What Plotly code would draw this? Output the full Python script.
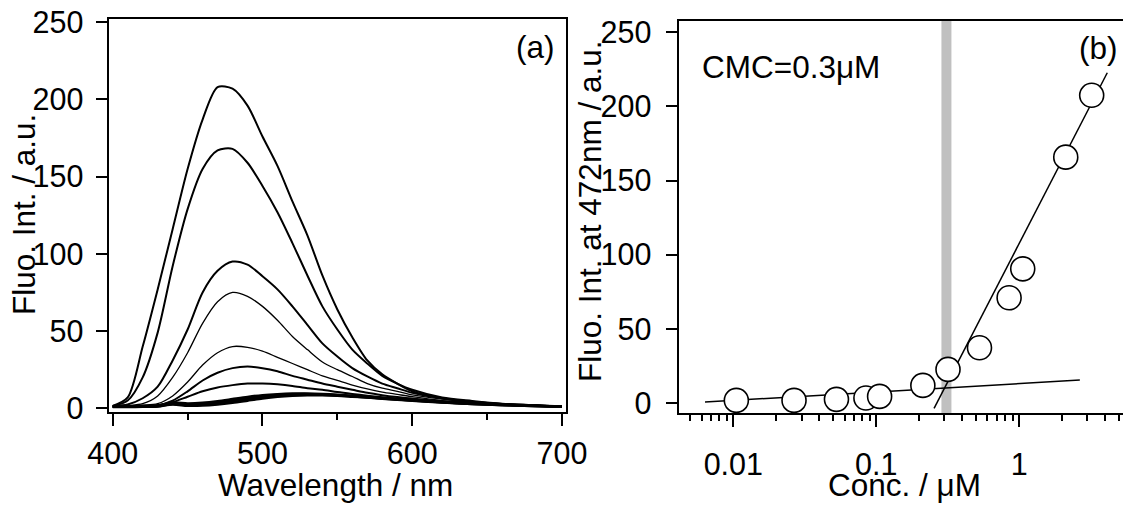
import plotly.graph_objects as go

# ---------------- data: panel (a) spectra ----------------
wavelength = [400, 410, 420, 430, 440, 450, 460, 470, 480, 490, 500, 510, 520, 530,
              540, 550, 560, 570, 580, 590, 600, 620, 640, 660, 680, 700]

spec1 = [1.5, 7, 40, 77, 116, 155, 187, 208, 207, 196, 176, 157, 134, 112, 86, 64, 46, 31, 22, 16, 11, 6.5, 4.3, 2.8, 2, 1.3]
spec2 = [1.5, 5, 20, 49, 92, 129, 155, 167, 168, 159, 144, 127, 107, 86, 66, 51, 38, 29, 21, 16, 12, 7, 4.8, 3, 2, 1.2]
spec3 = [1.5, 2.5, 6.5, 14, 31, 51, 75, 89, 95, 93, 85.5, 77, 66, 54, 42, 33.5, 26, 20.6, 16, 13, 10, 6.5, 4.3, 2.8, 2, 1.2]
spec4 = [1.2, 1.8, 3, 8, 20, 36, 55, 69, 75, 72.5, 66, 57, 46.5, 38, 30, 25, 20.6, 16, 13, 11, 8.7, 6, 4, 2.8, 2, 1.2]
spec5 = [1, 1.5, 2, 3, 8, 17, 28, 36, 40, 39.5, 37, 33, 29, 25, 21, 18, 15, 12.5, 10.5, 9, 7.5, 5, 3.5, 2.5, 1.8, 1.2]
spec6 = [1, 1.3, 1.6, 2, 5, 11, 18, 23, 26, 27, 26, 24, 21, 18.5, 16, 14, 12, 10, 8.5, 7.3, 6.3, 4.5, 3.2, 2.3, 1.7, 1.2]
spec7 = [1, 1.2, 1.4, 1.8, 4, 7.5, 11, 13.5, 15, 16, 16, 15.5, 14.5, 13, 12, 10.5, 9.3, 8.2, 7.2, 6.3, 5.5, 4, 3, 2.2, 1.6, 1.1]
spec8 = [1, 1, 1.2, 1.8, 3.8, 3.2, 3.6, 4.6, 6, 7.4, 8.5, 9.2, 9.6, 9.6, 9.3, 8.8, 8.1, 7.4, 6.7, 6, 5.3, 4.1, 3.1, 2.3, 1.7, 1.1]
spec9 = [1, 1, 1.1, 1.5, 3.2, 2.5, 2.8, 3.7, 5, 6.5, 7.7, 8.6, 9.1, 9.2, 9, 8.5, 7.9, 7.2, 6.5, 5.8, 5.1, 3.9, 2.9, 2.2, 1.6, 1.1]
spec10 = [0.9, 0.9, 1, 1.3, 2.8, 2, 2.2, 3, 4.2, 5.6, 7, 8, 8.6, 8.8, 8.7, 8.3, 7.7, 7, 6.3, 5.6, 5, 3.8, 2.8, 2.1, 1.5, 1]
spec11 = [0.8, 0.8, 0.9, 1.1, 2.4, 1.6, 1.7, 2.4, 3.5, 4.9, 6.3, 7.4, 8.1, 8.4, 8.4, 8.1, 7.5, 6.9, 6.2, 5.5, 4.9, 3.7, 2.8, 2, 1.5, 1]

spectra = [spec1, spec2, spec3, spec4, spec5, spec6, spec7, spec8, spec9, spec10, spec11]
spectra_widths = [2, 2, 2, 1.3, 1.3, 2, 2, 2.4, 2.4, 2.4, 2.4]

# ---------------- data: panel (b) ----------------
conc = [0.0105, 0.0266, 0.0527, 0.0847, 0.1056, 0.212, 0.318, 0.528, 0.851, 1.06, 2.12, 3.22]
fluo = [1.8, 1.8, 2.5, 3.4, 4.5, 11.9, 22.7, 37.3, 71.0, 90.5, 165.8, 207.5]

low_fit_x = [0.00634, 2.66]
low_fit_y = [0.7, 15.5]
high_fit_x = [0.254, 4.14]
high_fit_y = [-3.6, 222.7]

cmc_band_x = [0.31, 0.31]
cmc_band_y = [-20, 280]

left_xticks = [400, 500, 600, 700]
y_ticks = [0, 50, 100, 150, 200, 250]
log_major_ticks = [0.01, 0.1, 1]
log_major_text = ["0.01", "0.1", "1"]
log_minor_ticks = [0.004, 0.005, 0.006, 0.007, 0.008, 0.009,
                   0.02, 0.03, 0.04, 0.05, 0.06, 0.07, 0.08, 0.09,
                   0.2, 0.3, 0.4, 0.5, 0.6, 0.7, 0.8, 0.9,
                   2, 3, 4, 5]

# ---------------- figure ----------------
W, H = 1123, 506
FONT = "Liberation Sans, Arial, sans-serif"
TICKFS = 30.5
TITLEFS = 31.5

def px_x(p):
    return p / W

def px_y(p):
    return 1 - p / H

fig = go.Figure()

for ys, lw in zip(spectra, spectra_widths):
    fig.add_trace(go.Scatter(x=wavelength, y=ys, mode="lines", line=dict(color="black", width=lw, shape="spline", smoothing=0.8),
                             xaxis="x", yaxis="y", showlegend=False, hoverinfo="skip"))

fig.add_trace(go.Scatter(x=cmc_band_x, y=cmc_band_y, mode="lines", line=dict(color="#c0c0c0", width=10),
                         xaxis="x2", yaxis="y2", showlegend=False, hoverinfo="skip"))
fig.add_trace(go.Scatter(x=low_fit_x, y=low_fit_y, mode="lines", line=dict(color="black", width=1.5),
                         xaxis="x2", yaxis="y2", showlegend=False))
fig.add_trace(go.Scatter(x=high_fit_x, y=high_fit_y, mode="lines", line=dict(color="black", width=1.5),
                         xaxis="x2", yaxis="y2", showlegend=False))
fig.add_trace(go.Scatter(x=conc, y=fluo, mode="markers",
                         marker=dict(symbol="circle", size=24, color="white", line=dict(color="black", width=1.6)),
                         xaxis="x2", yaxis="y2", showlegend=False))

axis_common = dict(showgrid=False, zeroline=False, showline=True, linecolor="black", linewidth=1.5,
                   ticks="outside", tickcolor="black", tickwidth=1.5, ticklen=12, automargin=False,
                   tickfont=dict(family=FONT, size=TICKFS, color="black"))

fig.update_layout(
    width=W, height=H, autosize=False,
    margin=dict(l=0, r=0, t=0, b=0, pad=0),
    paper_bgcolor="white", plot_bgcolor="white",
    xaxis=dict(domain=[px_x(109.3), px_x(565.7)], range=[397.7, 702.5], anchor="y",
               tickmode="array", tickvals=left_xticks, mirror=True,
               minor=dict(ticks="outside", ticklen=6, tickwidth=1.5, tickcolor="black", dtick=50, showgrid=False),
               ticklabelstandoff=1, **axis_common),
    yaxis=dict(domain=[px_y(412.3), px_y(19)], range=[-2.6, 252.1], anchor="x",
               tickmode="array", tickvals=y_ticks, mirror=True, ticklabelstandoff=6, **axis_common),
    xaxis2=dict(domain=[px_x(679.3), 1.0], type="log", range=[-2.378, 0.727], anchor="y2",
                tickmode="array", tickvals=log_major_ticks, ticktext=log_major_text, mirror=True,
                minor=dict(ticks="outside", ticklen=6, tickwidth=1.5, tickcolor="black",
                           tickmode="array", tickvals=log_minor_ticks, showgrid=False),
                ticklabelstandoff=11, **axis_common),
    yaxis2=dict(domain=[px_y(413.3), px_y(20.7)], range=[-6.9, 257.8], anchor="x2",
                tickmode="array", tickvals=y_ticks, mirror=False, ticklabelstandoff=8, **axis_common),
)

ann_font = dict(family=FONT, size=TITLEFS, color="black")
annotations = [
    dict(text="Wavelength / nm", x=px_x(335), y=px_y(484.5), xanchor="center", yanchor="middle"),
    dict(text="Fluo. Int. / a.u.", x=px_x(24), y=px_y(215), textangle=-90, xanchor="center", yanchor="middle"),
    dict(text="Conc. / μM", x=px_x(904.5), y=px_y(485), xanchor="center", yanchor="middle"),
    dict(text="Fluo. Int. at 472nm / a.u.", x=px_x(590.5), y=px_y(211.5), textangle=-90, xanchor="center", yanchor="middle"),
    dict(text="(a)", x=px_x(557), y=px_y(47), xanchor="right", yanchor="middle"),
    dict(text="(b)", x=px_x(1120), y=px_y(47.5), xanchor="right", yanchor="middle"),
    dict(text="CMC=0.3μM", x=px_x(700), y=px_y(66.7), xanchor="left", yanchor="middle"),
]
for a in annotations:
    a.update(xref="paper", yref="paper", showarrow=False, font=ann_font)
fig.update_layout(annotations=annotations)

fig.write_html(
    "out.html",
    config={"displayModeBar": False},
    post_script="document.body.style.margin='0';document.body.style.padding='0';document.body.style.overflow='hidden';",
)
